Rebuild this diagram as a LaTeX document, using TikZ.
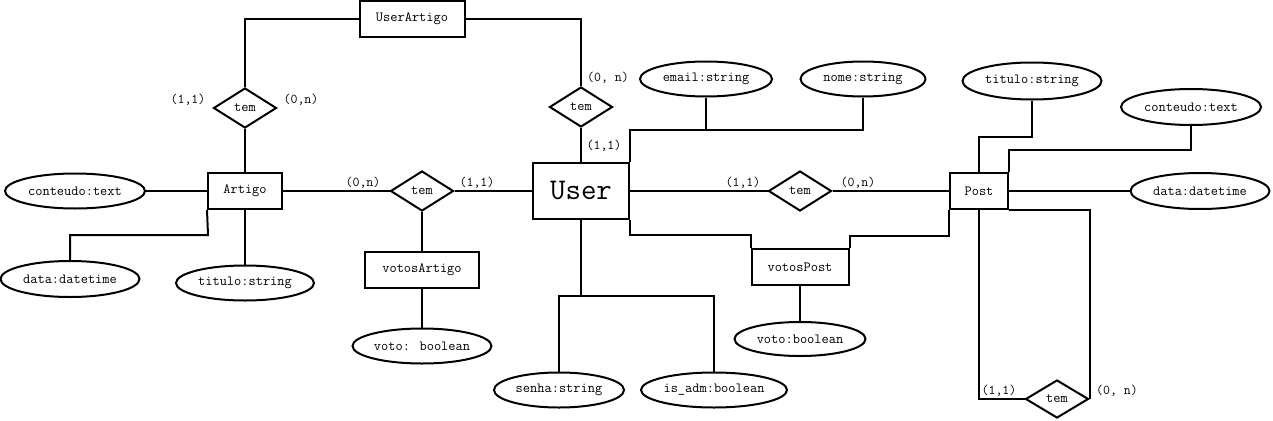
\documentclass[tikz,border=0pt]{standalone}
\usepackage{fontspec}
\usetikzlibrary{shapes.geometric}
\begin{document}
\begin{tikzpicture}[x=1pt,y=-1pt,line width=2pt,
  every node/.style={font=\ttfamily\fontsize{14}{16}\selectfont},
  ent/.style={draw,rectangle,inner sep=0pt,minimum height=36pt},
  attr/.style={draw,ellipse,inner sep=0pt,minimum height=35pt},
  rel/.style={draw,diamond,inner sep=0pt,minimum width=63pt,minimum height=40pt},
  card/.style={inner sep=0pt,font=\ttfamily\fontsize{13.5}{15}\selectfont}]
\useasboundingbox (0,0) rectangle (1273,420);
% entities
\node[ent,minimum width=105pt] (ua) at (412,19) {UserArtigo};
\node[ent,minimum width=74pt] (artigo) at (245,191) {Artigo};
\node[ent,minimum width=114pt] (va) at (422,270) {votosArtigo};
\node[ent,minimum width=96pt,minimum height=56pt,font=\ttfamily\fontsize{30}{34}\selectfont] (user) at (581,191) {User};
\node[ent,minimum width=58pt] (post) at (979,191) {Post};
\node[ent,minimum width=97pt] (vp) at (800,267) {votosPost};
% relationships
\node[rel] (r1) at (245,108) {tem};
\node[rel] (r2) at (581,107) {tem};
\node[rel] (r3) at (422,191) {tem};
\node[rel] (r4) at (800,191) {tem};
\node[rel,minimum height=38pt] (r5) at (1057,399) {tem};
% attributes
\node[attr,minimum width=140pt] (ct1) at (75,191) {conteudo:text};
\node[attr,minimum width=139pt,minimum height=36pt] (dt1) at (70,279) {data:datetime};
\node[attr,minimum width=138pt] (ti1) at (245,283) {titulo:string};
\node[attr,minimum width=139pt] (vb1) at (422,346) {voto: boolean};
\node[attr,minimum width=130pt] (senha) at (559,390) {senha:string};
\node[attr,minimum width=146pt] (isadm) at (714,390) {is\_adm:boolean};
\node[attr,minimum width=132pt] (email) at (706,79) {email:string};
\node[attr,minimum width=125pt] (nome) at (863,79) {nome:string};
\node[attr,minimum width=139pt,minimum height=37pt] (ti2) at (1032,81) {titulo:string};
\node[attr,minimum width=140pt,minimum height=36pt] (ct2) at (1191,107) {conteudo:text};
\node[attr,minimum width=139pt,minimum height=36pt] (dt2) at (1200,191) {data:datetime};
\node[attr,minimum width=131pt,minimum height=34pt] (vb2) at (800,339) {voto:boolean};
% cardinalities
\node[card] (c1) at (188,100) {(1,1)};
\node[card] (c2) at (301,100) {(0,n)};
\node[card] (c3) at (608,78) {(0, n)};
\node[card] (c4) at (604,146) {(1,1)};
\node[card] (c5) at (363,183) {(0,n)};
\node[card] (c6) at (477,183) {(1,1)};
\node[card] (c7) at (743,183) {(1,1)};
\node[card] (c8) at (858,183) {(0,n)};
\node[card] (c9) at (999,391) {(1,1)};
\node[card] (c10) at (1117,391) {(0, n)};
% junction coordinates
\coordinate (uj) at (629,130);
\coordinate (sj) at (581,296);
\coordinate (aj) at (208,235);
% connectors
\draw (ua.west) -| (r1.north);
\draw (r1.south) -- (artigo.north);
\draw (ua.east) -| (r2.north);
\draw (r2.south) -- (user.north);
\draw (ct1.east) -- (artigo.west);
\draw (artigo.south west) -- (aj) -| (dt1.north);
\draw (artigo.south) -- (ti1.north);
\draw (artigo.east) -- (r3.west);
\draw (r3.east) -- (user.west);
\draw (r3.south) -- (va.north);
\draw (va.south) -- (vb1.north);
\draw (user.north east) -- (user.north east |- uj) -| (nome.south);
\draw (email.south) -- (email.south |- uj);
\draw (user.south) -- (sj);
\draw (senha.north) -- (senha.north |- sj) -- (isadm.north |- sj) -- (isadm.north);
\draw (user.east) -- (r4.west);
\draw (r4.east) -- (post.west);
\draw (user.south east) -- ++(0,15) -| (vp.north west);
\draw (vp.north east) -- ++(0,-12) -| (post.south west);
\draw (vp.south) -- (vb2.north);
\draw (ti2.south) -- ++(0,36) -| (post.north);
\draw (ct2.south) -- ++(0,24) -| (post.north east);
\draw (post.east) -- (dt2.west);
\draw (post.south) |- (r5.west);
\draw (post.south east) -| (r5.east);
\end{tikzpicture}
\end{document}
